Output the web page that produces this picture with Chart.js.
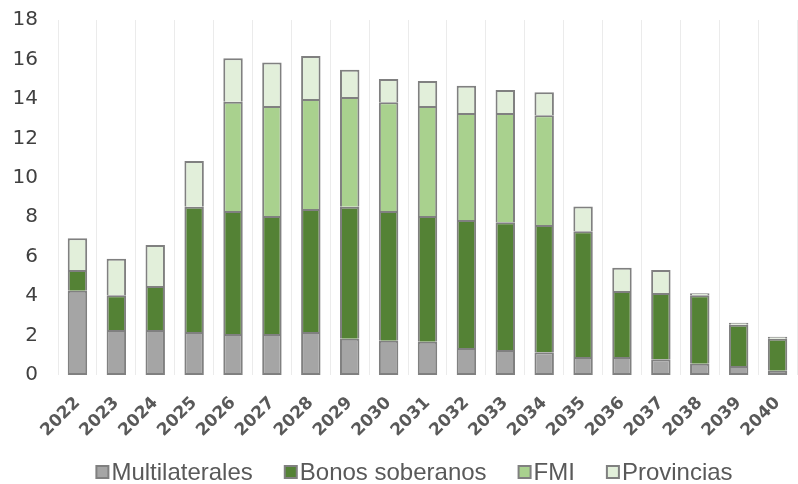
<!DOCTYPE html>
<html>
<head>
<meta charset="utf-8">
<script src="https://cdn.jsdelivr.net/npm/chart.js@4.4.0/dist/chart.umd.min.js"></script>
<style>
  html, body { margin: 0; padding: 0; background: #ffffff; }
  #wrap { width: 798px; height: 484px; }
</style>
</head>
<body>
<div id="wrap"><canvas id="c" width="798" height="484"></canvas></div>
<script>
const categories = ['2022','2023','2024','2025','2026','2027','2028','2029','2030','2031','2032','2033','2034','2035','2036','2037','2038','2039','2040'];
const multilaterales = [4.27,2.28,2.28,2.18,2.08,2.08,2.18,1.84,1.74,1.69,1.37,1.27,1.15,0.91,0.91,0.80,0.57,0.46,0.22];
const bonosSoberanos = [1.05,1.76,2.23,6.35,6.24,5.98,6.24,6.69,6.58,6.37,6.49,6.47,6.46,6.38,3.35,3.36,3.47,2.09,1.62];
const fmi = [null,null,null,null,5.54,5.58,5.58,5.57,5.51,5.58,5.43,5.55,5.56,null,null,null,null,null,null];
const provincias = [1.61,1.86,2.08,2.32,2.20,2.20,2.18,1.38,1.18,1.27,1.38,1.16,1.17,1.26,1.18,1.16,0.10,0.10,0.10];
const yTicks = [0,2,4,6,8,10,12,14,16,18];

const BORDER = '#808080';

const customLegend = {
  id: 'customLegend',
  afterDraw(chart) {
    const ctx = chart.ctx;
    const fontSize = 24;
    const box = 14, gapBox = 2, gapItem = 31;
    ctx.save();
    ctx.font = fontSize + 'px "Liberation Sans", Arial, sans-serif';
    const items = chart.data.datasets.map(ds => ({
      label: ds.label, fill: ds.backgroundColor, w: ctx.measureText(ds.label).width
    }));
    let total = 0;
    items.forEach((it, i) => { total += box + gapBox + it.w + (i < items.length - 1 ? gapItem : 0); });
    let x = chart.width / 2 + 15 - total / 2;
    const baseline = 480;
    items.forEach(it => {
      ctx.fillStyle = it.fill;
      ctx.fillRect(x + 1, baseline - 14, box - 2, box - 2);
      ctx.strokeStyle = BORDER;
      ctx.lineWidth = 2;
      ctx.strokeRect(x + 1, baseline - 14, box - 2, box - 2);
      ctx.fillStyle = '#595959';
      ctx.textBaseline = 'alphabetic';
      ctx.textAlign = 'left';
      ctx.fillText(it.label, x + box + gapBox, baseline);
      x += box + gapBox + it.w + gapItem;
    });
    ctx.restore();
  }
};

function ds(label, data, color, skipped) {
  return {
    label, data,
    backgroundColor: color,
    borderColor: BORDER,
    borderWidth: 2,
    borderSkipped: skipped,
    categoryPercentage: 1.0,
    barPercentage: 0.5
  };
}

new Chart(document.getElementById('c'), {
  type: 'bar',
  data: {
    labels: categories,
    datasets: [
      ds('Multilaterales', multilaterales, '#a5a5a5', false),
      ds('Bonos soberanos', bonosSoberanos, '#548235', 'start'),
      ds('FMI', fmi, '#a9d18e', 'start'),
      ds('Provincias', provincias, '#e2efda', 'start')
    ]
  },
  options: {
    responsive: false,
    animation: false,
    devicePixelRatio: 1,
    layout: { padding: { top: 20, left: 0, right: 1, bottom: 0 } },
    plugins: {
      legend: { display: false },
      tooltip: { enabled: false },
      title: { display: false }
    },
    scales: {
      x: {
        stacked: true,
        offset: true,
        grid: { display: true, color: '#ebebeb', lineWidth: 1, drawTicks: false, offset: true },
        border: { display: false },
        ticks: {
          autoSkip: false,
          minRotation: 45, maxRotation: 45,
          padding: 18,
          color: '#595959',
          font: { family: '"DejaVu Sans", sans-serif', size: 17, weight: 'bold' }
        },
        afterFit(scale) { scale.height = 109; scale.paddingLeft = 0; scale.paddingRight = 0; }
      },
      y: {
        stacked: true,
        min: 0, max: 18,
        afterBuildTicks(scale) { scale.ticks = yTicks.map(v => ({ value: v })); },
        grid: { display: false, drawTicks: false },
        border: { display: false },
        ticks: {
          padding: 20,
          color: '#404040',
          font: { family: '"DejaVu Sans", sans-serif', size: 20 }
        },
        afterFit(scale) { scale.width = 58; scale.paddingTop = 0; scale.paddingBottom = 0; }
      }
    }
  },
  plugins: [customLegend]
});
</script>
</body>
</html>
